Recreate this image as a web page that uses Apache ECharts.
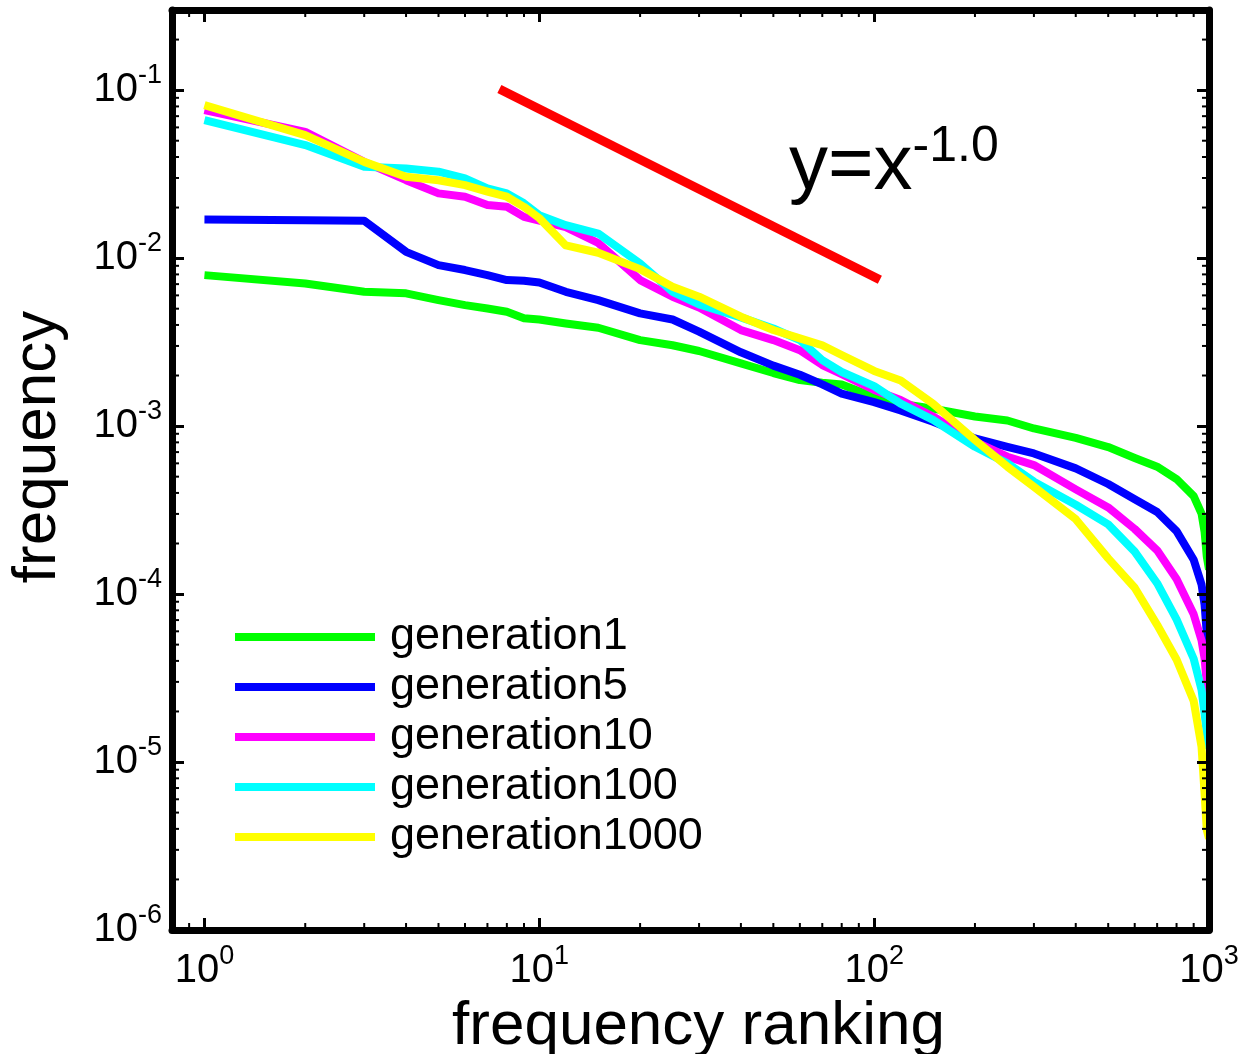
<!DOCTYPE html>
<html>
<head>
<meta charset="utf-8">
<title>frequency vs. frequency ranking</title>
<script src="https://cdn.jsdelivr.net/npm/echarts@6/dist/echarts.min.js"></script>
<style>
  html, body { margin: 0; padding: 0; background: #ffffff; }
  #chart { width: 1243px; height: 1054px; }
</style>
</head>
<body>
<div id="chart"></div>
<script>
// Rank positions at which each generation's frequency is listed
const ranks = [1, 2, 3, 4, 5, 6, 7, 8, 9, 10, 12, 15, 20, 25, 30, 40, 50, 60, 70, 80,
  100, 120, 150, 200, 250, 300, 400, 500, 600, 700, 800, 900, 950, 970, 985, 1000];

const gen1 = [0.00792, 0.00706, 0.0063, 0.00617, 0.00562, 0.00525, 0.00501, 0.00479, 0.00439, 0.00431,
  0.00408, 0.00385, 0.00325, 0.00303, 0.0028, 0.00236, 0.00207, 0.00188, 0.00181, 0.00177,
  0.00149, 0.00136, 0.00127, 0.00114, 0.00108, 0.000968, 0.00085, 0.00075, 0.000646, 0.000573,
  0.000484, 0.000383, 0.000301, 0.000235, 0.000167, 0.00014];

const gen5 = [0.0170, 0.0168, 0.01667, 0.0109, 0.00908, 0.00849, 0.00792, 0.0074, 0.00733, 0.00716,
  0.0063, 0.00562, 0.00469, 0.00431, 0.00365, 0.00275, 0.00229, 0.00202, 0.00177, 0.00156,
  0.00139, 0.00124, 0.00106, 0.000845, 0.000753, 0.000687, 0.00056, 0.000452, 0.000367, 0.000308,
  0.000237, 0.00016, 0.000114, 0.0000865, 0.0000583, 0.00005];

const gen10 = [0.076, 0.0565, 0.0374, 0.0291, 0.0243, 0.0232, 0.0207, 0.0202, 0.0176, 0.0167,
  0.0153, 0.0123, 0.0074, 0.00589, 0.00508, 0.00373, 0.00325, 0.00283, 0.00231, 0.00204,
  0.00164, 0.00143, 0.00114, 0.000807, 0.000657, 0.000586, 0.00042, 0.000328, 0.000244, 0.000182,
  0.000123, 0.0000757, 0.000053, 0.0000414, 0.0000294, 0.000025];

const gen100 = [0.0663, 0.0471, 0.035, 0.0342, 0.0327, 0.0298, 0.026, 0.0243, 0.0212, 0.018,
  0.0157, 0.014, 0.0093, 0.0063, 0.0053, 0.00444, 0.00381, 0.00325, 0.00247, 0.0021,
  0.00173, 0.00136, 0.00109, 0.000753, 0.0006, 0.000467, 0.00034, 0.00026, 0.000179, 0.000116,
  0.0000706, 0.0000412, 0.0000269, 0.0000195, 0.0000148, 0.000012];

const gen1000 = [0.0814, 0.054, 0.0374, 0.0305, 0.0291, 0.0272, 0.0249, 0.0232, 0.0202, 0.0173,
  0.0119, 0.01076, 0.0086, 0.00675, 0.00589, 0.00448, 0.00373, 0.00333, 0.00303, 0.00265,
  0.00213, 0.00187, 0.00136, 0.000826, 0.000573, 0.000435, 0.000279, 0.000163, 0.000109, 0.0000656,
  0.0000408, 0.0000231, 0.0000123, 0.0000065, 0.00000394, 0.0000035];

// Reference power law y = C * x^-1.0 (end points)
const guideRanks = [7.6, 104];
const guideFreqs = [0.1017, 0.00743];

const seriesNames = ['generation1', 'generation5', 'generation10', 'generation100', 'generation1000'];
const seriesColors = ['#00ff00', '#0000ff', '#ff00ff', '#00ffff', '#ffff00'];
const seriesValues = [gen1, gen5, gen10, gen100, gen1000];

// Axis ranges and minor tick positions (2..9 within each decade)
const rankRange = [0.8, 1000];
const freqRange = [1e-6, 0.3];
const rankMinorTicks = [0.9];
for (let d = 1; d <= 100; d *= 10) for (let m = 2; m <= 9; m++) rankMinorTicks.push(m * d);
const freqMinorTicks = [];
for (let e = -6; e <= -1; e++) for (let m = 2; m <= 9; m++) {
  const v = m * Math.pow(10, e);
  if (v <= freqRange[1]) freqMinorTicks.push(v);
}

const FONT = '"Liberation Sans", Arial, Helvetica, sans-serif';

function powLabel(v) {
  const lg = Math.log10(v);
  const e = Math.round(lg);
  if (Math.abs(lg - e) > 1e-6) return '';
  return '{b|10}{s|' + e + '}';
}
const powRich = {
  b: { fontSize: 40, fontFamily: FONT, color: '#000', lineHeight: 56 },
  s: { fontSize: 27, fontFamily: FONT, color: '#000', lineHeight: 27, verticalAlign: 'top' }
};

const frameLine = { show: true, lineStyle: { color: '#000', width: 7 } };
const majorTick = { show: true, inside: true, length: 12, lineStyle: { color: '#000', width: 3 } };

const chart = echarts.init(document.getElementById('chart'), null, { renderer: 'canvas' });

const lineSeries = seriesNames.map((name, i) => ({
  name: name,
  type: 'line',
  data: ranks.map((r, k) => [r, seriesValues[i][k]]),
  showSymbol: false,
  symbol: 'none',
  z: 2,
  itemStyle: { color: seriesColors[i] },
  lineStyle: { color: seriesColors[i], width: 8, join: 'round', cap: 'butt' },
  emphasis: { disabled: true }
}));

const minorLen = 7;

chart.setOption({
  animation: false,
  backgroundColor: '#ffffff',
  grid: { left: 172, right: 34, top: 10, bottom: 124, containLabel: false, outerBoundsMode: 'none' },
  legend: {
    orient: 'vertical',
    left: 235,
    top: 612,
    padding: 0,
    itemGap: 0,
    itemWidth: 140,
    itemHeight: 8,
    icon: 'rect',
    selectedMode: false,
    data: seriesNames,
    textStyle: { fontSize: 45, fontFamily: FONT, color: '#000', lineHeight: 50, padding: [0, 0, 0, 10] }
  },
  xAxis: [{
    type: 'log',
    position: 'bottom',
    min: rankRange[0],
    max: rankRange[1],
    z: 5,
    axisLine: frameLine,
    axisTick: majorTick,
    splitLine: { show: false },
    axisLabel: { margin: 13, formatter: powLabel, rich: powRich },
    name: 'frequency ranking',
    nameLocation: 'middle',
    nameGap: 57,
    nameTextStyle: { fontSize: 62, fontFamily: FONT, color: '#000', padding: [0, 0, 0, 16] }
  }, {
    type: 'log',
    position: 'top',
    min: rankRange[0],
    max: rankRange[1],
    z: 5,
    axisLine: frameLine,
    axisTick: majorTick,
    splitLine: { show: false },
    axisLabel: { show: false }
  }],
  yAxis: [{
    type: 'log',
    position: 'left',
    min: freqRange[0],
    max: freqRange[1],
    z: 5,
    axisLine: frameLine,
    axisTick: majorTick,
    splitLine: { show: false },
    axisLabel: { margin: 10, formatter: powLabel, rich: powRich },
    name: 'frequency',
    nameLocation: 'middle',
    nameGap: 103,
    nameTextStyle: { fontSize: 62, fontFamily: FONT, color: '#000', padding: [0, 0, 0, 46] }
  }, {
    type: 'log',
    position: 'right',
    min: freqRange[0],
    max: freqRange[1],
    z: 5,
    axisLine: frameLine,
    axisTick: majorTick,
    splitLine: { show: false },
    axisLabel: { show: false }
  }],
  graphic: [{
    type: 'text',
    x: 789,
    y: 122,
    z: 10,
    style: {
      text: '{m|y=x}{p|-1.0}',
      verticalAlign: 'top',
      align: 'left',
      rich: {
        m: { fontSize: 78, fontFamily: FONT, fill: '#000', lineHeight: 90 },
        p: { fontSize: 50, fontFamily: FONT, fill: '#000', lineHeight: 44, verticalAlign: 'top' }
      }
    }
  }],
  series: lineSeries.concat([{
    name: 'guide',
    type: 'line',
    data: guideRanks.map((r, k) => [r, guideFreqs[k]]),
    showSymbol: false,
    symbol: 'none',
    z: 3,
    itemStyle: { color: '#ff0000' },
    lineStyle: { color: '#ff0000', width: 9, cap: 'butt' },
    emphasis: { disabled: true }
  }, {
    name: 'rank minor ticks',
    type: 'custom',
    z: 6,
    silent: true,
    data: rankMinorTicks.map(v => [v, 1e-3]),
    encode: { x: 0, y: 1 },
    renderItem: function (params, api) {
      const cs = params.coordSys;
      const p = api.coord([api.value(0), 1e-3]);
      const yb = cs.y + cs.height, yt = cs.y;
      return {
        type: 'group',
        children: [
          { type: 'line', shape: { x1: p[0], y1: yb, x2: p[0], y2: yb - minorLen }, style: { stroke: '#000', lineWidth: 2 } },
          { type: 'line', shape: { x1: p[0], y1: yt, x2: p[0], y2: yt + minorLen }, style: { stroke: '#000', lineWidth: 2 } }
        ]
      };
    }
  }, {
    name: 'freq minor ticks',
    type: 'custom',
    z: 6,
    silent: true,
    data: freqMinorTicks.map(v => [1, v]),
    encode: { x: 0, y: 1 },
    renderItem: function (params, api) {
      const cs = params.coordSys;
      const p = api.coord([1, api.value(1)]);
      const xl = cs.x, xr = cs.x + cs.width;
      return {
        type: 'group',
        children: [
          { type: 'line', shape: { x1: xl, y1: p[1], x2: xl + minorLen, y2: p[1] }, style: { stroke: '#000', lineWidth: 2 } },
          { type: 'line', shape: { x1: xr, y1: p[1], x2: xr - minorLen, y2: p[1] }, style: { stroke: '#000', lineWidth: 2 } }
        ]
      };
    }
  }])
});
</script>
</body>
</html>
